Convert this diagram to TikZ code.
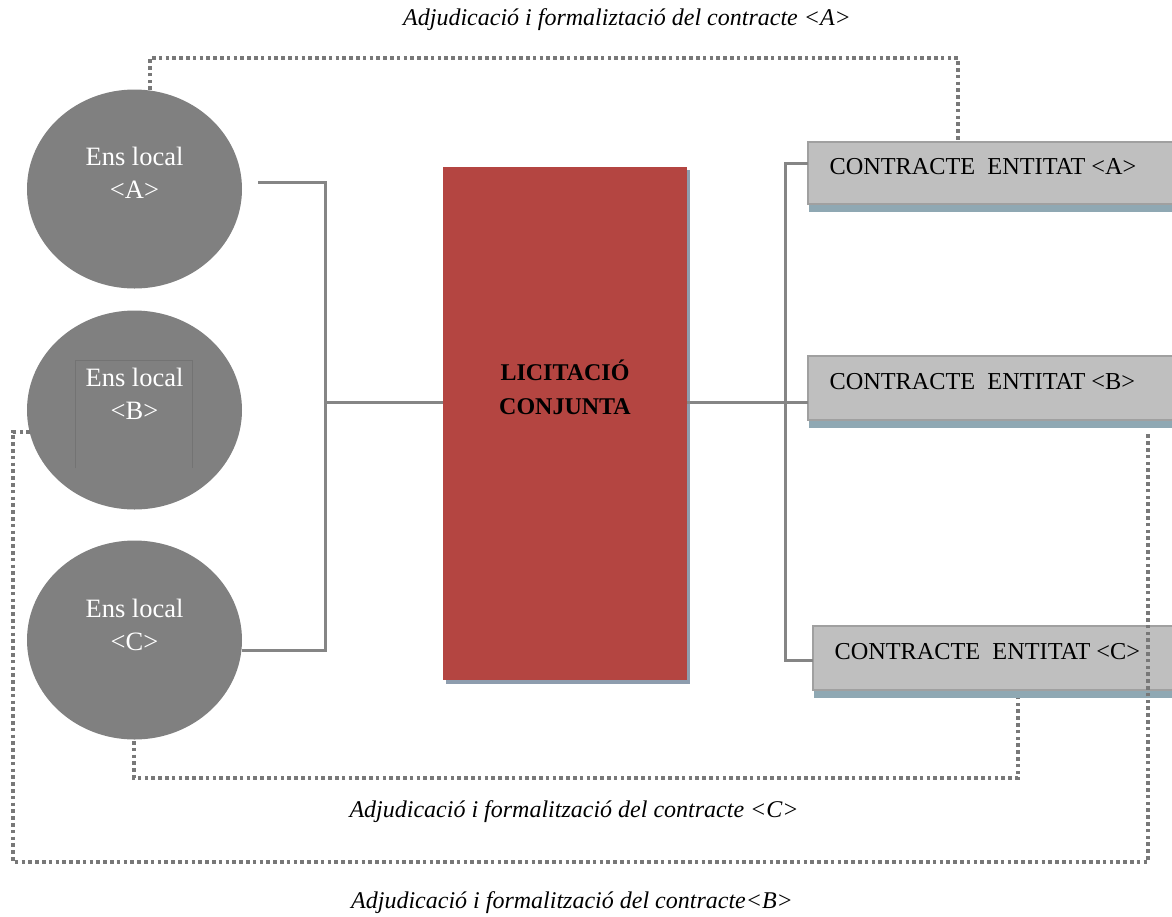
\documentclass[tikz,border=0pt]{standalone}
\usepackage{fontspec}
\setmainfont{Liberation Serif}
\usetikzlibrary{shapes.geometric,calc}
\definecolor{ensgray}{HTML}{808080}
\definecolor{lineg}{HTML}{858585}
\definecolor{licred}{HTML}{B44541}
\definecolor{boxfill}{HTML}{BFBFBF}
\definecolor{boxedge}{HTML}{A0A0A0}
\definecolor{shadowb}{HTML}{8FA8B3}
\definecolor{shadowr}{HTML}{8E9DAE}
\tikzset{
  ens/.style={ellipse, fill=ensgray, draw=none, minimum width=215pt, minimum height=199pt, inner sep=0pt},
  enstext/.style={text=white, font=\fontsize{26.5}{33}\selectfont, align=center},
  conn/.style={draw=lineg, line width=3pt},
  dots/.style={draw=lineg!90!black, line width=3.6pt, dash pattern=on 3.6pt off 3.2pt},
  contract/.style={rectangle, fill=boxfill, draw=boxedge, line width=2pt, minimum height=63pt, inner sep=0pt},
  ctext/.style={font=\fontsize{24.3}{28}\selectfont, anchor=west},
  lbl/.style={font=\itshape\fontsize{24}{28}\selectfont},
}
\begin{document}
\begin{tikzpicture}[x=1pt,y=-1pt]
\useasboundingbox (0,0) rectangle (1172,916);

% local bodies
\node[ens] (ensA) at (134.5,189) {};
\node[ens] (ensB) at (134.5,410) {};
\node[ens] (ensC) at (134.5,640) {};
\node[enstext] (tA) at (134.5,173) {Ens local\\<A>};
\node[enstext] (tB) at (134.5,394) {Ens local\\<B>};
\node[enstext] (tC) at (134.5,625) {Ens local\\<C>};
% thin frame around the text of B
\draw[draw=black!55, line width=0.5pt] (75,468) -- (75,360) -- (192,360) -- (192,468);

% joint tender
\fill[shadowr] (446,170) rectangle (690,684);
\node[rectangle, fill=licred, minimum width=244pt, minimum height=513pt, inner sep=0pt] (lic) at (565,423.5) {};
\node[font=\bfseries\fontsize{24}{34}\selectfont, align=center] (licT) at (565,387) {LICITACIÓ\\CONJUNTA};

% contracts
\fill[shadowb] (809,200) rectangle (1172,212);
\fill[shadowb] (809,416) rectangle (1172,428);
\fill[shadowb] (814,686) rectangle (1172,698);
\draw[contract] (808,142) rectangle (1180,204);
\draw[contract] (808,356) rectangle (1180,420);
\draw[contract] (813,626) rectangle (1180,690);
\node[ctext] (kA) at (826,167) {CONTRACTE\ \ ENTITAT <A>};
\node[ctext] (kB) at (826,382) {CONTRACTE\ \ ENTITAT <B>};
\node[ctext] (kC) at (831,652) {CONTRACTE\ \ ENTITAT <C>};

% solid connectors, left side
\coordinate (jA) at (258,182);
\coordinate (jC) at (242,650);
\coordinate (jm) at (325,402);
\draw[conn] (jA) -- (325,182) -- (325,650) -- (jC);
\draw[conn] (jm) -- (lic.west |- jm);
% solid connectors, right side
\coordinate (rm) at (808,402);
\draw[conn] (lic.east |- rm) -- (rm);
\draw[conn] (808,163) -- (785,163) -- (785,660) -- (813,660);

% dotted award lines
\coordinate (dA1) at (150,90);
\coordinate (dA2) at (958,142);
\draw[dots] (dA1) -- (150,58) -- (958,58) -- (dA2);
\coordinate (dB1) at (30,432);
\coordinate (dB2) at (1148,433);
\draw[dots] (dB1) -- (13,432) -- (13,862) -- (1148,862) -- (dB2);
\coordinate (dC1) at (134,741);
\coordinate (dC2) at (1018,698);
\draw[dots] (dC1) -- (134,778) -- (1018,778) -- (dC2);

% labels
\node[lbl] (lA) at (627,20) {Adjudicació i formaliztació del contracte <A>};
\node[lbl] (lC) at (574,812) {Adjudicació i formalització del contracte <C>};
\node[lbl] (lB) at (572,903) {Adjudicació i formalització del contracte<B>};
\end{tikzpicture}
\end{document}
